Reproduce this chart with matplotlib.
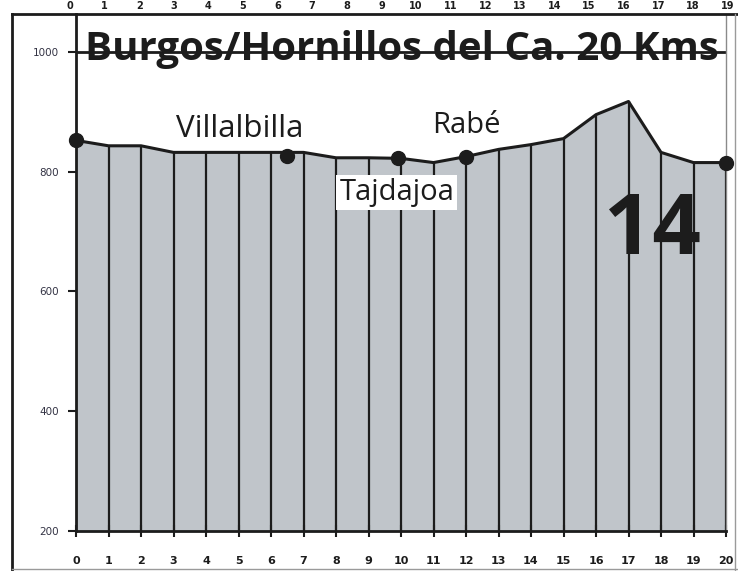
import matplotlib.pyplot as plt
from matplotlib.lines import Line2D
import numpy as np

# Elevation profile, one value per km
km = list(range(21))
elev = [852, 843, 843, 832, 832, 832, 832, 832, 823, 823, 822,
        815, 825, 837, 845, 855, 895, 917, 832, 815, 815]

# Villages along the stage
town_km = [0, 6.5, 9.9, 12.0, 20]
town_elev = [852, 826, 822, 825, 815]

top_labels = [str(i) for i in range(20)]

fig = plt.figure(figsize=(7.38, 5.71), dpi=100)
ax = fig.add_axes([76 / 738, 40 / 571, 650 / 738, 517 / 571])

dark = '#1c1c1c'
ax.fill_between(km, elev, 200, color='#c0c5ca', zorder=1)
ax.vlines(km, 200, elev, colors=dark, lw=1.6, zorder=2)
ax.plot(km, elev, color=dark, lw=2.2, zorder=3)
ax.plot(town_km, town_elev, 'o', color=dark, ms=10, zorder=4, clip_on=False)
ax.axhline(1000, color=dark, lw=2, zorder=2)

ax.set_xlim(0, 20)
ax.set_ylim(200, 1063)
ax.set_xticks(km)
ax.set_yticks([200, 400, 600, 800, 1000])
ax.tick_params(axis='x', direction='inout', length=8, width=1.5, pad=14,
               labelsize=8, colors=dark)
ax.tick_params(axis='y', direction='out', length=6, width=1.5, pad=6,
               labelsize=7.5, labelcolor='#333344', color=dark)
for lab in ax.get_xticklabels():
    lab.set_fontweight('bold')

ax.spines['left'].set_linewidth(2)
ax.spines['left'].set_color(dark)
ax.spines['bottom'].set_linewidth(2)
ax.spines['bottom'].set_color(dark)
ax.spines['right'].set_linewidth(1)
ax.spines['right'].set_color('#8a8a8a')
ax.spines['top'].set_visible(False)

ax.text(10.03, 986, 'Burgos/Hornillos del Ca. 20 Kms', ha='center', va='baseline',
        fontsize=29, fontweight='bold', family='Open Sans', color=dark, zorder=5)
ax.text(5.05, 857, 'Villalbilla', ha='center', va='baseline', fontsize=22.5,
        family='Open Sans', color=dark)
ax.text(12.0, 865, 'Rabé', ha='center', va='baseline', fontsize=21,
        family='Open Sans', color=dark)
ax.text(9.87, 753, 'Tajdajoa', ha='center', va='baseline', fontsize=21,
        family='Open Sans', color=dark, zorder=5,
        bbox=dict(facecolor='white', edgecolor='none', pad=2))
ax.text(17.75, 662, '14', ha='center', va='baseline', fontsize=61,
        fontweight='bold', family='Open Sans', color=dark, zorder=5)

# frame of the scanned page
fig.add_artist(Line2D([12 / 738, 1], [1 - 14 / 571] * 2, color=dark, lw=2))
fig.add_artist(Line2D([12 / 738] * 2, [0, 1 - 14 / 571], color=dark, lw=2))
fig.add_artist(Line2D([735 / 738] * 2, [0, 1 - 14 / 571], color='#9a9a9a', lw=1))
fig.add_artist(Line2D([12 / 738, 1], [2 / 571] * 2, color='#9a9a9a', lw=1))

# km labels of the chart above on the page
for i, t in enumerate(top_labels):
    fig.text((70 + i * 34.6) / 738, 1 - 1 / 571, t, ha='center', va='top',
             fontsize=7, fontweight='bold', color=dark)

fig.savefig('out.png', dpi=100)
